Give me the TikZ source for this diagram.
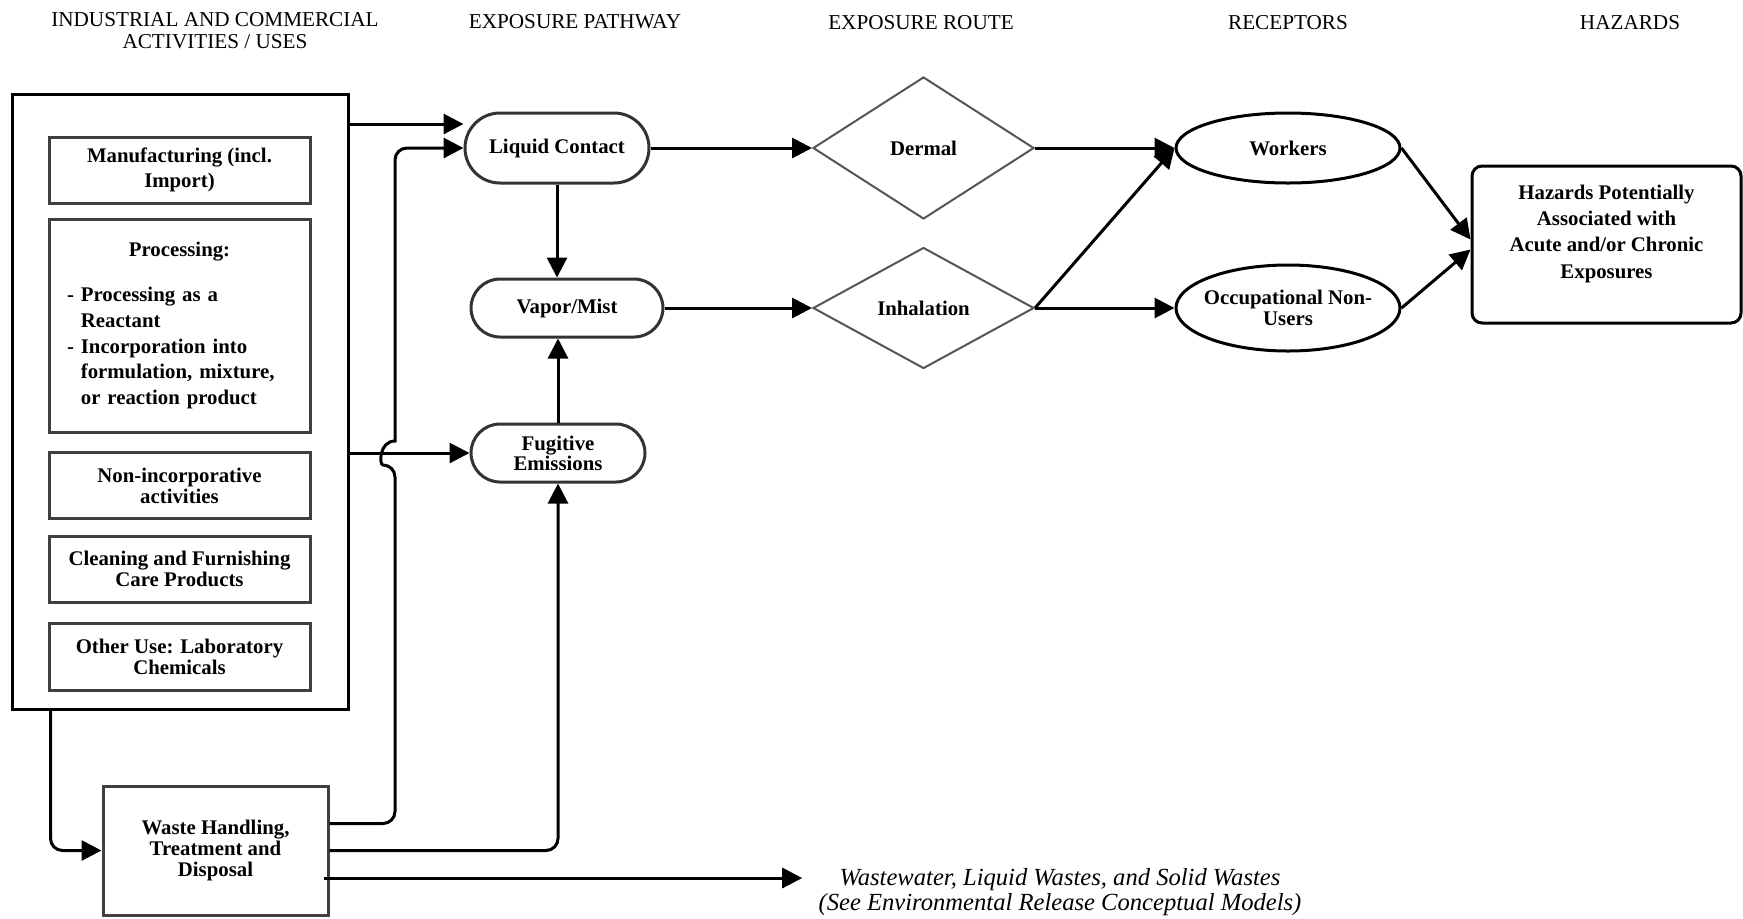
\documentclass[tikz,border=0pt]{standalone}
\usepackage{fontspec}
\setmainfont{Liberation Serif}
\usetikzlibrary{arrows.meta,shapes.geometric}

\begin{document}
\begin{tikzpicture}[x=0.5pt,y=0.5pt,yscale=-1,xscale=1,
  link/.style={line width=1.5pt,-{Triangle[length=10pt,width=10pt]}},
  colhead/.style={inner sep=0pt,align=center,font=\fontsize{10.6}{11}\selectfont},
  usebox/.style={draw={rgb, 255:red, 64; green, 64; blue, 64 },line width=1.5pt,minimum width=130.5pt,inner sep=2pt,align=center,font=\fontsize{10.4}{10.5}\selectfont\bfseries},
  pathbox/.style={draw={rgb, 255:red, 51; green, 51; blue, 51 },line width=1.5pt,minimum height=29pt,rounded corners=14.5pt,inner sep=2pt,align=center,font=\fontsize{10.4}{10}\selectfont\bfseries},
  routebox/.style={diamond,aspect=1.8,draw={rgb, 255:red, 85; green, 85; blue, 85 },line width=1pt,minimum width=110.5pt,inner sep=0pt,font=\fontsize{10.4}{10.5}\selectfont\bfseries},
  recbox/.style={ellipse,draw,line width=1.5pt,minimum width=112pt,inner sep=0pt,align=center,font=\fontsize{10.4}{10.5}\selectfont\bfseries}
]
\useasboundingbox (0,0) rectangle (1743,918);

% Text Node
\node[colhead] (hdact) at (215,31) {INDUSTRIAL AND COMMERCIAL\\ACTIVITIES / USES};
% Text Node
\node[colhead] (hdpath) at (575,22) {EXPOSURE PATHWAY};
% Text Node
\node[colhead] (hdroute) at (921,23) {EXPOSURE ROUTE};
% Text Node
\node[colhead] (hdrec) at (1288,23) {RECEPTORS};
% Text Node
\node[colhead] (hdhaz) at (1630,23) {HAZARDS};

%Shape: Rectangle
\node[draw,line width=1.5pt,minimum width=168pt,minimum height=307.5pt] (acts) at (180,401.5) {};
%Shape: Rectangle
\node[usebox,minimum height=33pt,font=\fontsize{10.4}{12.8}\selectfont\bfseries] (mfg) at (179.5,170) {Manufacturing (incl.\\Import)};
%Shape: Rectangle
\node[usebox,minimum height=106.5pt,text width=112.5pt,align=left,font=\fontsize{10.4}{12.9}\selectfont\bfseries] (proc) at (179.5,325.5) {\makebox[112.5pt]{Processing:}\\[9.6pt]- Processing as a\\\hphantom{- }Reactant\\- Incorporation into\\\hphantom{- }formulation, mixture,\\\hphantom{- }or reaction product};
%Shape: Rectangle
\node[usebox,minimum height=33pt] (nonin) at (179.5,485.5) {Non-incorporative\\activities};
%Shape: Rectangle
\node[usebox,minimum height=33pt] (clean) at (179.5,569) {Cleaning and Furnishing\\Care Products};
%Shape: Rectangle
\node[usebox,minimum height=33.5pt] (other) at (179.5,657) {Other Use: Laboratory\\Chemicals};
%Shape: Rectangle
\node[usebox,minimum width=112.5pt,minimum height=64.5pt] (wst) at (215.5,850.5) {Waste Handling,\\Treatment and\\Disposal};

%Shape: Rounded Rect
\node[pathbox,minimum width=92pt,minimum height=35pt,rounded corners=17.5pt] (lc) at (557,148) {Liquid Contact};
%Shape: Rounded Rect
\node[pathbox,minimum width=96pt] (vm) at (567,308) {Vapor/Mist};
%Shape: Rounded Rect
\node[pathbox,minimum width=87pt] (fe) at (558,453) {Fugitive\\Emissions};

%Shape: Diamond
\node[routebox,minimum height=71pt] (derm) at (923.5,148) {Dermal};
%Shape: Diamond
\node[routebox,minimum height=60.5pt] (inh) at (923.5,308) {Inhalation};

%Shape: Ellipse
\node[recbox,minimum height=35pt] (wrk) at (1288,148) {Workers};
%Shape: Ellipse
\node[recbox,minimum height=43pt,inner xsep=-4pt] (occ) at (1288,308) {Occupational Non-\\Users};

%Shape: Rounded Rect
\node[draw,line width=1.5pt,rounded corners=5pt,minimum width=134.5pt,minimum height=78.5pt,text depth=13pt,align=center,font=\fontsize{10.4}{13.1}\selectfont\bfseries] (haz) at (1606.5,244.5) {Hazards Potentially\\Associated with\\Acute and/or Chronic\\Exposures};

% Text Node
\node[inner sep=0pt,align=center,font=\fontsize{12.3}{12.5}\selectfont\itshape] (ww) at (1060,892.5) {Wastewater, Liquid Wastes, and Solid Wastes\\(See Environmental Release Conceptual Models)};

\coordinate (jx) at (395,0);

%Straight Lines
\draw[link] ([yshift=-12pt]lc.west -| acts.east) -- ([yshift=-12pt]lc.west);
%Straight Lines
\draw[link] (fe.west -| acts.east) -- (fe.west);
%Curve Lines
\draw[link] ([yshift=-13.5pt]wst.east) [rounded corners=6pt] -| ([yshift=6pt]fe.west -| jx) [sharp corners] .. controls +(-16,0) and +(-16,0) .. ([yshift=-6pt]fe.west -| jx) [rounded corners=6pt] |- (lc.west);
%Straight Lines
\draw[link,rounded corners=6pt] (wst.east) -| (fe.south);
%Straight Lines
\draw[link,rounded corners=6pt] ([xshift=20pt]acts.south west) |- (wst.west);
%Straight Lines
\draw[link,shorten >=8pt] ([xshift=-3pt,yshift=13.75pt]wst.east) -- ([yshift=13.75pt]wst.east -| ww.west);
%Straight Lines
\draw[link] (lc.south) -- (lc.south |- vm.north);
%Straight Lines
\draw[link] (fe.north) -- (fe.north |- vm.south);
%Straight Lines
\draw[link] (lc.east) -- (derm.west);
%Straight Lines
\draw[link] (vm.east) -- (inh.west);
%Straight Lines
\draw[link] (derm.east) -- (wrk.west);
%Straight Lines
\draw[link] (inh.east) -- (wrk.west);
%Straight Lines
\draw[link] (inh.east) -- (occ.west);
%Straight Lines
\draw[link] (wrk.east) -- ([yshift=-2.5pt]haz.west);
%Straight Lines
\draw[link] (occ.east) -- ([yshift=2.5pt]haz.west);

\end{tikzpicture}
\end{document}
